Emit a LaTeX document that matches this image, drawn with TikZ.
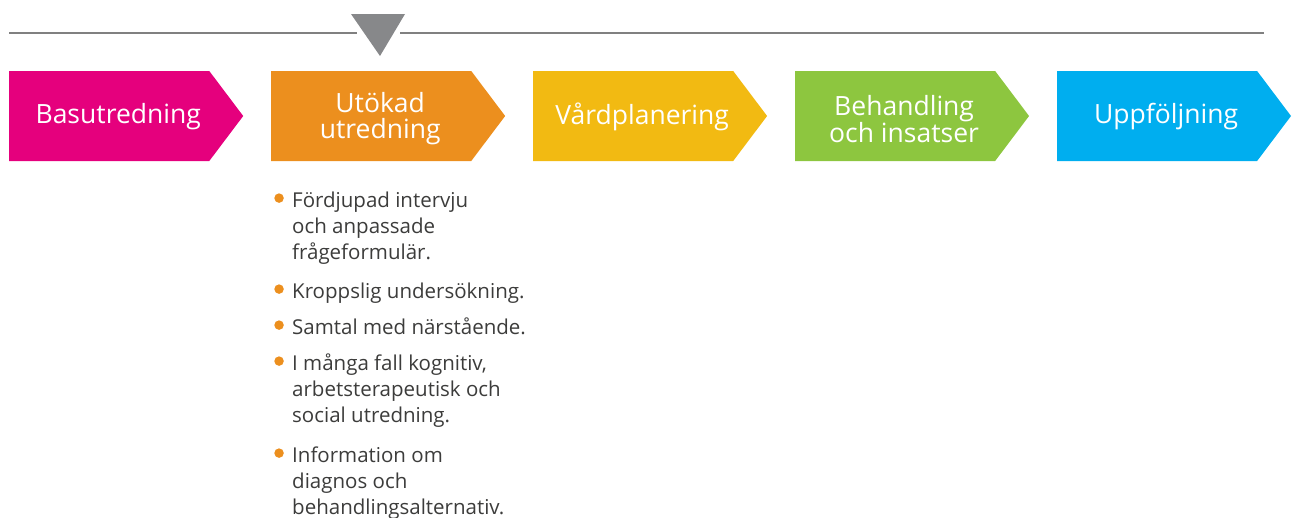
\documentclass[tikz,border=0pt]{standalone}
\usepackage{fontspec}
\setmainfont{Open Sans}
\usepackage{tikz}
\usetikzlibrary{shapes.symbols, positioning, calc}
\usepackage{xcolor}
\definecolor{phasemagenta}{RGB}{229, 0, 125}
\definecolor{phaseorange}{RGB}{236, 143, 30}
\definecolor{phaseyellow}{RGB}{242, 186, 18}
\definecolor{phasegreen}{RGB}{141, 198, 63}
\definecolor{phasecyan}{RGB}{0, 174, 239}
\definecolor{rulegray}{RGB}{128, 128, 128}
\definecolor{markgray}{RGB}{135, 136, 138}
\definecolor{itemgray}{RGB}{60, 60, 59}

\tikzset{
  phase/.style={signal, signal to=east, signal from=nowhere, signal pointer angle=106,
    minimum width=234pt, minimum height=90pt, inner sep=0pt},
  phasetext/.style={text=white, align=center, inner sep=0pt, xshift=9pt, yshift=-1pt,
    font=\fontsize{26.5}{26}\selectfont},
  point/.style={circle, fill=phaseorange, inner sep=0pt, minimum size=9.5pt},
  item/.style={anchor=north west, align=left, inner sep=0pt, text=itemgray,
    font=\fontsize{20.5}{26.3}\selectfont}
}

\begin{document}
\begin{tikzpicture}[x=1pt, y=1pt, node distance=27.5pt]
                \useasboundingbox (0,0) rectangle (1292,-517);
                \clip (0,0) rectangle (1292,-517);
                % Timeline with marker
                \coordinate (ruleA) at (9,-33);
                \coordinate (ruleB) at (357,-33);
                \coordinate (ruleC) at (400,-33);
                \coordinate (ruleD) at (1264,-33);
                \draw[rulegray, line width=1.3pt] (ruleA) -- (ruleB);
                \draw[rulegray, line width=1.3pt] (ruleC) -- (ruleD);
                \fill[markgray] (351,-14) -- (405,-14) -- (380,-56) -- cycle;
                % Phases
                \node[phase, fill=phasemagenta, anchor=west, label={[phasetext]center:Basutredning}] (basut) at (9,-116) {};
                \node[phase, fill=phaseorange, right=of basut, label={[phasetext, yshift=-2pt]center:Utökad\\utredning}] (utokad) {};
                \node[phase, fill=phaseyellow, right=of utokad, label={[phasetext]center:Vårdplanering}] (vard) {};
                \node[phase, fill=phasegreen, right=of vard, label={[phasetext, yshift=-2pt]center:Behandling\\och insatser}] (behandl) {};
                \node[phase, fill=phasecyan, right=of behandl, label={[phasetext]center:Uppföljning}] (uppf) {};
                % Items under Utökad utredning
                \node[item] (i1) at (292,-188.6) {\strut Fördjupad intervju\\och anpassade\\frågeformulär.};
                \node[item] (i2) at (292,-279.6) {\strut Kroppslig undersökning.};
                \node[item] (i3) at (292,-315.6) {\strut Samtal med närstående.};
                \node[item] (i4) at (292,-351.6) {\strut I många fall kognitiv,\\arbetsterapeutisk och\\social utredning.};
                \node[item] (i5) at (292,-443.6) {\strut Information om\\diagnos och\\behandlingsalternativ.};
                \foreach \i in {i1,i2,i3,i4,i5}
                  \node[point, left=8pt of \i.north west, yshift=-9.5pt] (dot-\i) {};
            \end{tikzpicture}
\end{document}
